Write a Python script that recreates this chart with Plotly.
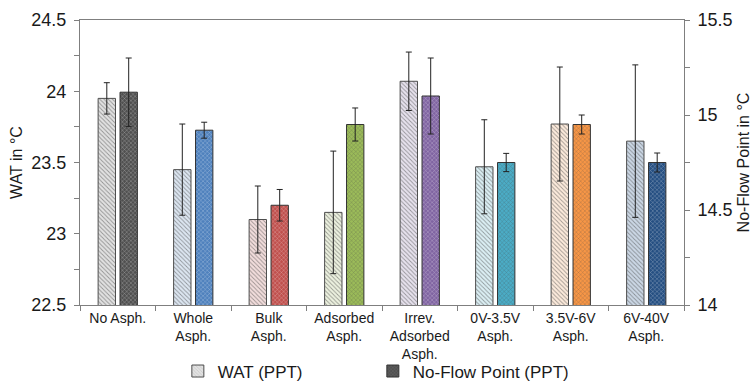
import plotly.graph_objects as go

# Samples (x categories)
categories = ["No Asph.", "Whole<br>Asph.", "Bulk<br>Asph.", "Adsorbed<br>Asph.",
              "Irrev.<br>Adsorbed<br>Asph.", "0V-3.5V<br>Asph.", "3.5V-6V<br>Asph.", "6V-40V<br>Asph."]

# Wax appearance temperature (left axis, °C) and its error
wat = [23.95, 23.45, 23.10, 23.15, 24.07, 23.47, 23.77, 23.65]
wat_err = [0.11, 0.32, 0.235, 0.43, 0.205, 0.33, 0.40, 0.535]

# No-flow point (right axis, °C) and its error
nfp = [15.12, 14.92, 14.525, 14.95, 15.10, 14.75, 14.95, 14.75]
nfp_err = [0.18, 0.042, 0.083, 0.087, 0.20, 0.048, 0.05, 0.05]

# Colour scheme per sample: light tint for WAT, full colour for no-flow point
light_fill = ["#e2e2e2", "#dde7f2", "#f3dedd", "#edf2e0", "#e7e2ee", "#dcf0f5", "#fdebdc", "#ccd8e6"]
light_hatch = ["#a8a8a8", "#a9c0dc", "#dcaaa8", "#c9daa6", "#bcadcf", "#a2d4e2", "#f4cba8", "#8a9fb8"]
dark_fill = ["#505050", "#4f81bd", "#c0504d", "#9bbb59", "#8064a2", "#4bacc6", "#f79646", "#254f82"]
dark_hatch = ["#8a8a8a", "#7fa3d2", "#dc8583", "#bcd48d", "#a58fc0", "#82c8dc", "#fab47c", "#5e82b2"]

fig = go.Figure()

fig.add_trace(go.Bar(
    x=categories, y=wat, name="WAT (PPT)",
    width=0.23, offset=-0.26,
    marker=dict(color=light_fill,
                line=dict(color="#4d4d4d", width=1),
                pattern=dict(shape="\\", fgcolor=light_hatch, bgcolor=light_fill,
                             size=3, solidity=0.3, fillmode="overlay")),
    error_y=dict(type="data", array=wat_err, color="#222222", thickness=1, width=3),
    yaxis="y",
))

fig.add_trace(go.Bar(
    x=categories, y=nfp, name="No-Flow Point (PPT)",
    width=0.23, offset=0.03,
    base=0,
    marker=dict(color=dark_fill,
                line=dict(color="#333333", width=1),
                pattern=dict(shape="x", fgcolor=dark_hatch, bgcolor=dark_fill,
                             size=3, solidity=0.25, fillmode="overlay")),
    error_y=dict(type="data", array=nfp_err, color="#222222", thickness=1, width=3),
    yaxis="y2",
))

axis_col = "#7f7f7f"
font_family = "Liberation Sans, Arial, sans-serif"

fig.update_layout(
    width=755, height=381,
    margin=dict(l=80, r=71, t=20, b=76),
    paper_bgcolor="white", plot_bgcolor="white",
    barmode="overlay",
    font=dict(family=font_family, color="#1a1a1a"),
    showlegend=True,
    legend=dict(orientation="h", x=0.162, xanchor="left",
                yref="container", y=0.025, yanchor="middle",
                font=dict(size=17), itemwidth=30, entrywidth=150,
                bgcolor="rgba(0,0,0,0)"),
    xaxis=dict(
        automargin=False,
        showline=True, linecolor=axis_col, linewidth=1, mirror=True,
        ticks="outside", tickson="boundaries", ticklen=5, tickcolor=axis_col,
        tickfont=dict(size=14), showgrid=False, zeroline=False,
    ),
    yaxis=dict(
        automargin=False,
        range=[22.5, 24.5], dtick=0.5, tick0=22.5,
        showline=True, linecolor=axis_col, linewidth=1,
        ticks="outside", ticklen=5, tickcolor=axis_col,
        minor=dict(dtick=0.25, ticks="outside", ticklen=5, tickcolor=axis_col),
        tickfont=dict(size=18), showgrid=False, zeroline=False,
        ticklabelstandoff=4,
        title=dict(text="WAT in °C", font=dict(size=16), standoff=4),
    ),
    yaxis2=dict(
        automargin=False,
        range=[14, 15.5], dtick=0.5, tick0=14, overlaying="y", side="right",
        showline=True, linecolor=axis_col, linewidth=1,
        ticks="outside", ticklen=5, tickcolor=axis_col,
        minor=dict(dtick=0.25, ticks="outside", ticklen=5, tickcolor=axis_col),
        tickfont=dict(size=18), showgrid=False, zeroline=False,
        ticklabelstandoff=4,
        title=dict(text="No-Flow Point in °C", font=dict(size=16), standoff=6),
    ),
)

fig.write_html("out.html")
